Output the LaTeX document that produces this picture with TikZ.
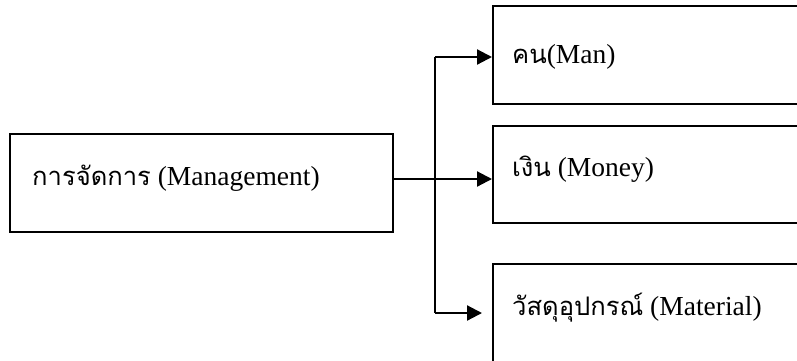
\documentclass[tikz,border=0pt]{standalone}
\usepackage{fontspec}
\setmainfont{Liberation Serif}
\newfontfamily\thaifont[Script=Thai,Scale=0.93]{Loma}
\usetikzlibrary{arrows.meta}
\newcommand{\thaitext}[1]{{\thaifont #1}}
\tikzset{
  box/.style={draw, line width=2.2pt, rectangle, inner sep=0pt},
  label/.style={anchor=base west, inner sep=0pt, font=\fontsize{27.5}{30}\selectfont},
  link/.style={line width=2.2pt},
  arr/.style={link, -{Triangle[length=15pt,width=15pt]}},
}
\begin{document}
\begin{tikzpicture}[x=1pt,y=-1pt]
  \useasboundingbox (0,0) rectangle (797,360);
  \clip (0,0) rectangle (797,360);
  % boxes
  \node[box, minimum width=383pt, minimum height=98pt] (mgmt) at (201.5,183) {};
  \node[box, minimum width=316pt, minimum height=98pt, anchor=north west] (man) at (492,5) {};
  \node[box, minimum width=316pt, minimum height=97pt, anchor=north west] (money) at (492,125) {};
  \node[box, minimum width=316pt, minimum height=110pt, anchor=north west] (material) at (492,263) {};
  % texts
  \node[label] (tmgmt) at (32,185) {\thaitext{การจัดการ} (Management)};
  \node[label] (tman) at (512,63) {\thaitext{คน}(Man)};
  \node[label] (tmoney) at (512,176) {\thaitext{เงิน} (Money)};
  \node[label] (tmaterial) at (512,315) {\thaitext{วัสดุอุปกรณ์} (Material)};
  % connectors
  \coordinate (split) at (435,179);
  \coordinate (trunkTop) at (435,57);
  \coordinate (trunkBot) at (435,313);
  \coordinate (matTip) at (482,313);
  \draw[link] (trunkTop) -- (trunkBot);
  \draw[arr] (mgmt.east |- split) -- (money.west |- split);
  \draw[arr] (trunkTop) -- (man.west |- trunkTop);
  \draw[arr] (trunkBot) -- (matTip);
\end{tikzpicture}
\end{document}
